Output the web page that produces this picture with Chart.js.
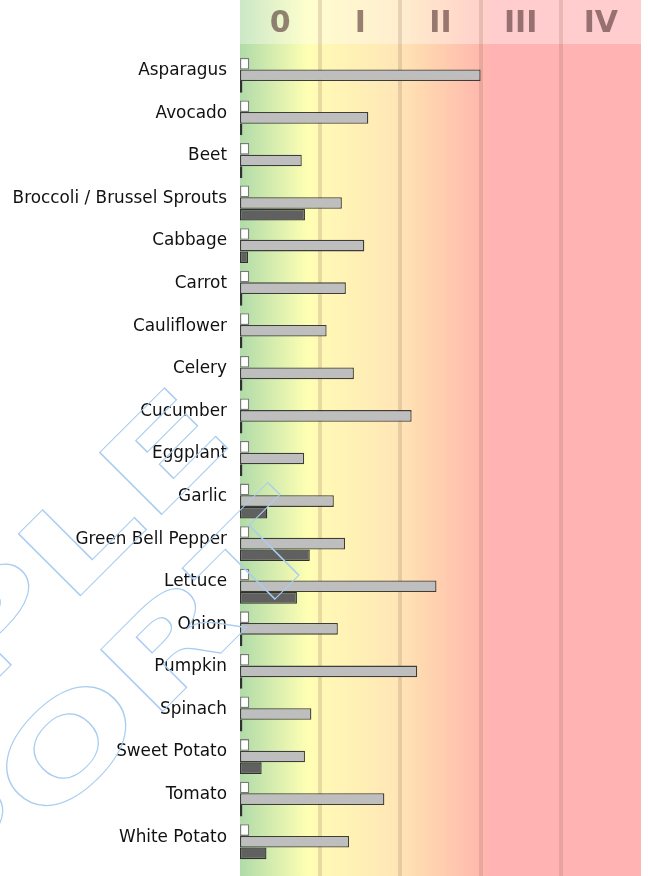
<!DOCTYPE html>
<html>
<head>
<meta charset="utf-8">
<script src="https://cdn.jsdelivr.net/npm/chart.js@4/dist/chart.umd.min.js"></script>
<style>
  html, body { margin: 0; padding: 0; background: #fff; }
  #wrap { width: 648px; height: 876px; }
</style>
</head>
<body>
<div id="wrap"><canvas id="veg-chart"></canvas></div>
<script>
const categories = [
  "Asparagus", "Avocado", "Beet", "Broccoli / Brussel Sprouts", "Cabbage",
  "Carrot", "Cauliflower", "Celery", "Cucumber", "Eggplant", "Garlic",
  "Green Bell Pepper", "Lettuce", "Onion", "Pumpkin", "Spinach",
  "Sweet Potato", "Tomato", "White Potato"
];
const whiteVals = [0.115, 0.115, 0.115, 0.115, 0.115, 0.115, 0.115, 0.115, 0.115, 0.115,
  0.115, 0.115, 0.115, 0.115, 0.115, 0.115, 0.115, 0.115, 0.115];
const grayVals = [3.0, 1.6, 0.77, 1.27, 1.55, 1.32, 1.08, 1.42, 2.14, 0.8,
  1.17, 1.31, 2.45, 1.22, 2.21, 0.89, 0.81, 1.8, 1.36];
const darkVals = [0.03, 0.03, 0.03, 0.81, 0.1, 0.03, 0.03, 0.03, 0.03, 0.03,
  0.34, 0.87, 0.71, 0.03, 0.03, 0.03, 0.27, 0.03, 0.33];
const classLabels = ["0", "I", "II", "III", "IV"];
const classBounds = [1, 2, 3, 4];

Chart.defaults.font.family = "'DejaVu Sans', sans-serif";

// background bands, header and class lines
const bandPlugin = {
  id: "bands",
  beforeDraw(chart) {
    const { ctx, chartArea, scales } = chart;
    const left = chartArea.left, right = chartArea.right;
    const w = right - left;
    const h = chart.height;
    ctx.save();
    const g = ctx.createLinearGradient(left, 0, right, 0);
    g.addColorStop(0, "#b0dba9");
    g.addColorStop(0.17, "#ffffb3");
    g.addColorStop(0.2, "#fff9b5");
    g.addColorStop(0.4, "#ffe5b6");
    g.addColorStop(0.45, "#ffd9b0");
    g.addColorStop(0.6, "#ffb9ae");
    g.addColorStop(0.63, "#ffb3b3");
    g.addColorStop(1, "#ffb3b3");
    ctx.fillStyle = g;
    ctx.fillRect(left, 0, w, h);

    // lighter header band
    ctx.fillStyle = "rgba(255,255,255,0.35)";
    ctx.fillRect(left, 0, w, 44);

    ctx.font = "bold 30px 'DejaVu Sans'";
    ctx.textAlign = "center";
    ctx.textBaseline = "middle";
    ctx.fillStyle = "rgba(75,45,45,0.58)";
    classLabels.forEach((lab, i) => {
      const x = scales.x.getPixelForValue(i + 0.5);
      ctx.fillText(lab, x, 24);
    });

    ctx.strokeStyle = "rgba(150,110,90,0.22)";
    ctx.lineWidth = 4;
    classBounds.forEach((v) => {
      const x = Math.round(scales.x.getPixelForValue(v));
      ctx.beginPath();
      ctx.moveTo(x, 0);
      ctx.lineTo(x, h);
      ctx.stroke();
    });
    ctx.restore();
  },
  afterDraw(chart) {
    // watermark
    const { ctx } = chart;
    ctx.save();
    ctx.rotate(-Math.PI / 4);
    ctx.scale(1.5, 1);
    ctx.font = "bold 120px 'DejaVu Sans'";
    ctx.textAlign = "right";
    ctx.textBaseline = "alphabetic";
    ctx.strokeStyle = "#a8cdf0";
    ctx.lineWidth = 1;
    ctx.strokeText("SAMPLE", -143 / 1.5, 478);
    ctx.strokeText("REPORT", -151 / 1.5, 618);
    ctx.restore();
  },
};

const vegChart = new Chart(document.getElementById("veg-chart"), {
  type: "bar",
  data: {
    labels: categories,
    datasets: [
      {
        label: "a",
        data: whiteVals,
        backgroundColor: "#ffffff",
        borderColor: "#7a7a7a",
        borderWidth: 1.3,
        borderSkipped: false,
      },
      {
        label: "b",
        data: grayVals,
        backgroundColor: "#bebebe",
        borderColor: "#3c3c3c",
        borderWidth: 1.3,
        borderSkipped: false,
      },
      {
        label: "c",
        data: darkVals,
        backgroundColor: "#606060",
        borderColor: "#303030",
        borderWidth: 1.3,
        borderSkipped: false,
      },
    ],
  },
  options: {
    indexAxis: "y",
    responsive: true,
    maintainAspectRatio: false,
    animation: false,
    categoryPercentage: 0.82,
    barPercentage: 1,
    layout: {
      padding: { top: 54, bottom: 13, left: 0, right: 7 },
    },
    plugins: {
      legend: { display: false },
      tooltip: { enabled: false },
    },
    scales: {
      x: {
        display: false,
        min: 0,
        max: 5,
      },
      y: {
        afterFit: (s) => {
          s.width = 240;
          s.paddingTop = 0;
          s.paddingBottom = 0;
        },
        grid: { display: false, drawTicks: false },
        border: { display: false },
        ticks: {
          padding: 13,
          labelOffset: -4.5,
          color: "#111111",
          font: { size: 16.85 },
        },
      },
    },
  },
  plugins: [bandPlugin],
});
</script>
</body>
</html>
